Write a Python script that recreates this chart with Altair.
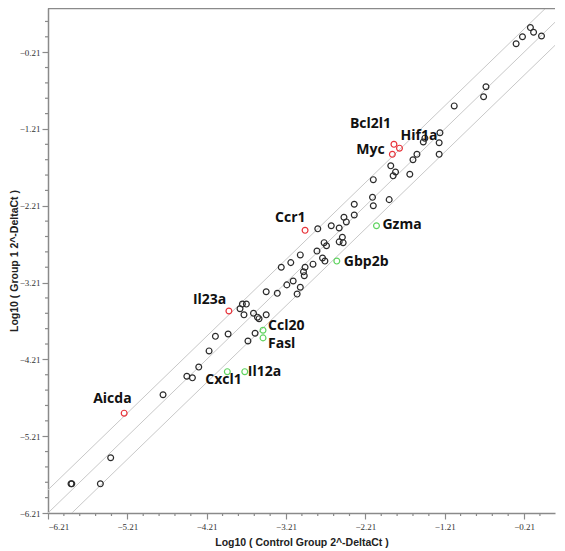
import altair as alt
import pandas as pd
import numpy as np

# ---- data (log10 2^-DeltaCt) ----
ctrl_black = [-0.13, -0.09, 0.01, -0.23, -0.31, -0.69, -0.72, -1.09, -1.27, -1.28,
              -1.46, -1.48, -1.28, -1.56, -1.61, -1.89, -1.83, -1.86, -1.65, -2.11,
              -2.12, -1.91, -2.11, -2.35, -2.35, -2.48, -2.45, -2.81, -2.64, -2.54,
              -2.50, -2.54, -2.49, -2.73, -2.70, -2.82, -3.03, -3.15, -3.27, -2.97,
              -2.99, -2.98, -2.87, -2.75, -2.72, -3.12, -3.20, -3.03, -3.07, -3.32,
              -3.46, -3.76, -3.71, -3.79, -3.74, -3.62, -3.57, -3.55, -3.46, -3.60,
              -3.69, -3.94, -4.10, -4.18, -4.31, -4.46, -4.39, -4.76, -5.42, -5.55,
              -5.92, -5.91]
grp1_black = [0.11, 0.05, 0.00, -0.01, -0.10, -0.66, -0.79, -0.91, -1.26, -1.39,
              -1.33, -1.38, -1.54, -1.54, -1.61, -1.69, -1.77, -1.82, -1.80, -1.87,
              -2.10, -2.13, -2.21, -2.19, -2.33, -2.36, -2.42, -2.51, -2.47, -2.50,
              -2.62, -2.68, -2.69, -2.69, -2.73, -2.80, -2.85, -2.95, -3.01, -3.01,
              -3.07, -3.12, -2.97, -2.89, -2.93, -3.19, -3.24, -3.27, -3.36, -3.35,
              -3.33, -3.49, -3.49, -3.55, -3.63, -3.61, -3.66, -3.68, -3.63, -3.87,
              -3.97, -3.88, -3.91, -4.10, -4.31, -4.43, -4.45, -4.67, -5.49, -5.83,
              -5.83, -5.83]

up_genes = ["Bcl2l1", "Hif1a", "Myc", "Ccr1", "Il23a", "Aicda"]
up_ctrl = [-1.85, -1.78, -1.87, -2.97, -3.93, -5.25]
up_grp1 = [-1.41, -1.46, -1.54, -2.53, -3.58, -4.91]

down_genes = ["Gzma", "Gbp2b", "Ccl20", "Fasl", "Cxcl1", "Il12a"]
down_ctrl = [-2.07, -2.57, -3.50, -3.50, -3.95, -3.73]
down_grp1 = [-2.47, -2.93, -3.83, -3.93, -4.37, -4.37]

major_ticks = [-6.21, -5.21, -4.21, -3.21, -2.21, -1.21, -0.21]
minor_ticks = [-6.01, -5.81, -5.61, -5.41, -5.01, -4.81, -4.61, -4.41,
               -4.01, -3.81, -3.61, -3.41, -3.01, -2.81, -2.61, -2.41,
               -2.01, -1.81, -1.61, -1.41, -1.01, -0.81, -0.61, -0.41, -0.01, 0.19]

# fold-change boundary offsets (log10 of 2-fold)
boundary_offsets = [0.0, float(np.log10(2)), -float(np.log10(2))]

# ---- layout ----
W, H = 507, 505
XDOM = [-6.21, 0.18]
YDOM = [-6.21, 0.365]
label_offsets = {
    "Bcl2l1": (-44, -20), "Hif1a": (1, -12), "Myc": (-36, -4), "Ccr1": (-30, -12),
    "Il23a": (-36, -11), "Aicda": (-31, -14), "Gzma": (6, -1), "Gbp2b": (7, 1),
    "Ccl20": (5, -4), "Fasl": (5, 6), "Cxcl1": (-22, 8), "Il12a": (3, 0),
}
AXIS_GRAY = "#8a8a8a"

def axis(title, **kw):
    return alt.Axis(
        title=title, values=major_ticks, format=".2f", grid=False,
        domainColor=AXIS_GRAY, domainWidth=1.5, tickColor=AXIS_GRAY, tickWidth=1.2,
        tickSize=6, labelFont="Liberation Serif", labelFontSize=9, labelColor="#333333",
        titleFont="Liberation Sans", titleFontSize=10.5, titleFontWeight="bold",
        titleColor="#222222", labelOverlap=False, **kw)

xs = alt.Scale(domain=XDOM, nice=False, zero=False)
ys = alt.Scale(domain=YDOM, nice=False, zero=False)

lines_rows = []
for i, off in enumerate(boundary_offsets):
    for xv in [-7.0, 1.0]:
        lines_rows.append({"line": i, "x": xv, "y": xv + off})
lines_df = pd.DataFrame(lines_rows)

lines = alt.Chart(lines_df).mark_line(color="#c8c8c8", strokeWidth=1, clip=True).encode(
    x=alt.X("x:Q", scale=xs, axis=axis("Log10 ( Control Group 2^-DeltaCt )", labelPadding=3, titlePadding=6)),
    y=alt.Y("y:Q", scale=ys, axis=axis("Log10 ( Group 1 2^-DeltaCt )", labelPadding=2, titlePadding=0)),
    detail="line:N",
)

minor_x = [v for v in minor_ticks if v <= XDOM[1]]
minor_y = [v for v in minor_ticks if v <= YDOM[1]]
minor_x_rules = alt.Chart(pd.DataFrame({"v": minor_x})).mark_rule(color=AXIS_GRAY, strokeWidth=1.2).encode(
    x=alt.X("v:Q", scale=xs), y=alt.value(H), y2=alt.value(H + 3))
minor_y_rules = alt.Chart(pd.DataFrame({"v": minor_y})).mark_rule(color=AXIS_GRAY, strokeWidth=1.2).encode(
    y=alt.Y("v:Q", scale=ys), x=alt.value(-3), x2=alt.value(0))

black_df = pd.DataFrame({"x": ctrl_black, "y": grp1_black})
up_df = pd.DataFrame({"gene": up_genes, "x": up_ctrl, "y": up_grp1})
down_df = pd.DataFrame({"gene": down_genes, "x": down_ctrl, "y": down_grp1})

def pts(df, color):
    return alt.Chart(df).mark_point(filled=False, color=color, size=34, strokeWidth=1.2, opacity=1).encode(
        x=alt.X("x:Q", scale=xs), y=alt.Y("y:Q", scale=ys))

layers = [lines, minor_x_rules, minor_y_rules,
          pts(black_df, "#2a2a2a"), pts(up_df, "#e8333a"), pts(down_df, "#5fd35f")]

all_labels = pd.concat([up_df, down_df], ignore_index=True)
for g in all_labels["gene"]:
    dx, dy = label_offsets[g]
    layers.append(
        alt.Chart(all_labels[all_labels.gene == g]).mark_text(
            align="left", baseline="middle", dx=dx, dy=dy, font="Open Sans",
            fontSize=14, fontWeight="bold", color="#111111"
        ).encode(x=alt.X("x:Q", scale=xs), y=alt.Y("y:Q", scale=ys), text="gene:N")
    )

top_border = alt.Chart(pd.DataFrame({"a": [0]})).mark_rule(color=AXIS_GRAY, strokeWidth=2.5).encode(
    x=alt.value(0), x2=alt.value(W), y=alt.value(0))
layers.append(top_border)

chart = alt.layer(*layers).properties(
    width=W, height=H,
    autosize=alt.AutoSizeParams(type="none"),
    padding={"left": 40, "top": 0, "right": 2, "bottom": 40},
).configure_view(stroke=None)

chart.save("out.html", embed_options={"renderer": "svg", "actions": False})
